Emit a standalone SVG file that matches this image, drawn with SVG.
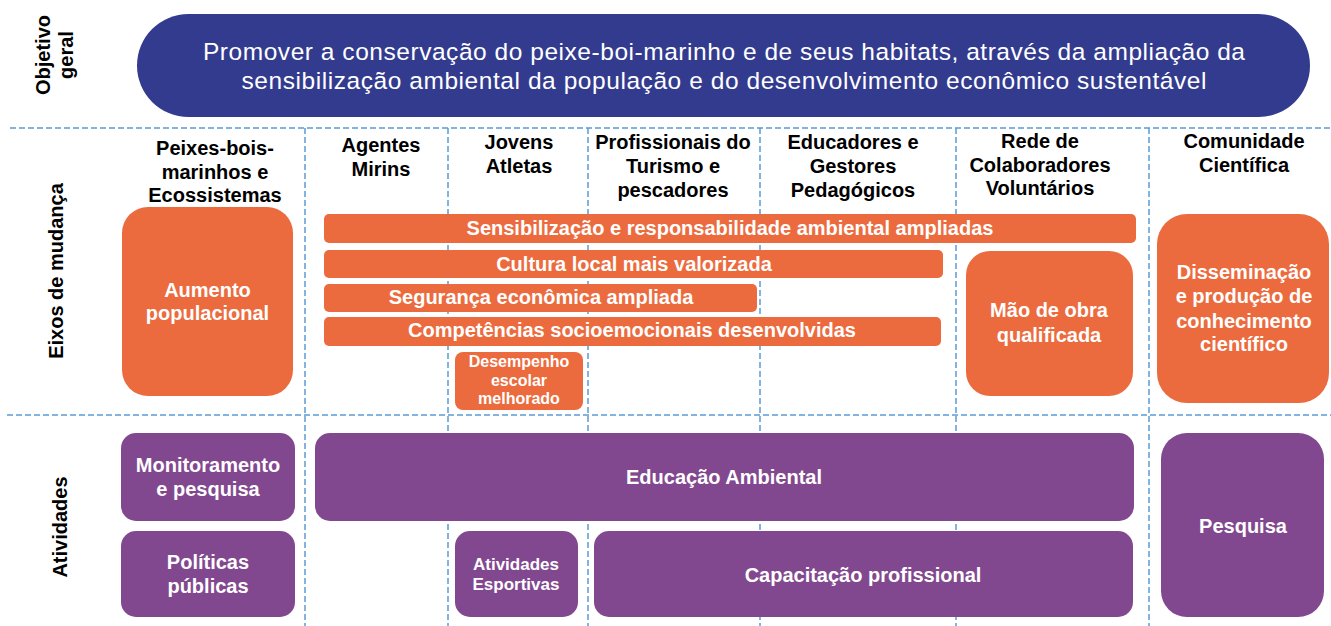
<svg xmlns="http://www.w3.org/2000/svg" width="1331" height="626" viewBox="0 0 1331 626">
<style>
text { font-family: "Liberation Sans", Arial, sans-serif; }
.k { font-size:20px; font-weight:bold; fill:#000; text-anchor:middle; }
.w { font-size:20px; font-weight:bold; fill:#fff; text-anchor:middle; }
.ws { font-size:16px; font-weight:bold; fill:#fff; text-anchor:middle; }
.wa { font-size:17px; font-weight:bold; fill:#fff; text-anchor:middle; }
.goal { font-size:24.5px; fill:#fff; text-anchor:middle; }
.o { fill:#EC6B3E; }
.p { fill:#82488F; }
.grid { stroke:#5B9BD5; stroke-width:1.5; stroke-dasharray:6 3; fill:none; }
</style>
<rect width="1331" height="626" fill="#fff"/>

<g id="grid" class="grid">
  <line x1="10" y1="128" x2="1331" y2="128"/>
  <line x1="7" y1="415" x2="1331" y2="415"/>
  <line x1="305" y1="128" x2="305" y2="626"/>
  <line x1="448" y1="128" x2="448" y2="626"/>
  <line x1="588" y1="128" x2="588" y2="626"/>
  <line x1="760" y1="128" x2="760" y2="626"/>
  <line x1="956" y1="128" x2="956" y2="626"/>
  <line x1="1149" y1="128" x2="1149" y2="626"/>
</g>

<g id="row-labels">
  <text class="k" transform="translate(50,55) rotate(-90)">Objetivo</text>
  <text class="k" transform="translate(73,55) rotate(-90)">geral</text>
  <text class="k" transform="translate(63,271) rotate(-90)">Eixos de mudança</text>
  <text class="k" transform="translate(67,527) rotate(-90)">Atividades</text>
</g>

<g id="goal">
  <rect x="137" y="14" width="1173" height="103" rx="51.5" fill="#333B8E"/>
  <text class="goal" x="724" y="59.5" textLength="1042">Promover a conservação do peixe-boi-marinho e de seus habitats, através da ampliação da</text>
  <text class="goal" x="724" y="88.5" textLength="965">sensibilização ambiental da população e do desenvolvimento econômico sustentável</text>
</g>

<g id="headers">
  <g id="h-peixes"><text class="k" x="215" y="155">Peixes-bois-</text><text class="k" x="215" y="179">marinhos e</text><text class="k" x="215" y="202">Ecossistemas</text></g>
  <g id="h-agentes"><text class="k" x="381" y="152">Agentes</text><text class="k" x="381" y="176">Mirins</text></g>
  <g id="h-jovens"><text class="k" x="519" y="149">Jovens</text><text class="k" x="519" y="173">Atletas</text></g>
  <g id="h-prof"><text class="k" x="673" y="149">Profissionais do</text><text class="k" x="673" y="173">Turismo e</text><text class="k" x="673" y="197">pescadores</text></g>
  <g id="h-educ"><text class="k" x="853" y="149">Educadores e</text><text class="k" x="853" y="173">Gestores</text><text class="k" x="853" y="197">Pedagógicos</text></g>
  <g id="h-rede"><text class="k" x="1040" y="148">Rede de</text><text class="k" x="1040" y="172">Colaboradores</text><text class="k" x="1040" y="195">Voluntários</text></g>
  <g id="h-com"><text class="k" x="1244" y="148">Comunidade</text><text class="k" x="1244" y="172">Científica</text></g>
</g>

<g id="aumento"><rect class="o" x="122" y="207" width="171" height="189" rx="26"/><text class="w" x="207.5" y="297">Aumento</text><text class="w" x="207.5" y="320">populacional</text></g>
<g id="sensibilizacao"><rect class="o" x="324" y="214" width="812" height="29" rx="5"/><text class="w" x="730" y="235">Sensibilização e responsabilidade ambiental ampliadas</text></g>
<g id="cultura"><rect class="o" x="324" y="250" width="619" height="28" rx="5"/><text class="w" x="634" y="271">Cultura local mais valorizada</text></g>
<g id="seguranca"><rect class="o" x="324" y="284" width="433" height="28" rx="5"/><text class="w" x="541" y="304">Segurança econômica ampliada</text></g>
<g id="competencias"><rect class="o" x="324" y="317" width="617" height="29" rx="5"/><text class="w" x="632" y="337">Competências socioemocionais desenvolvidas</text></g>
<g id="desempenho"><rect class="o" x="455" y="352" width="128" height="58" rx="8"/><text class="ws" x="519" y="367">Desempenho</text><text class="ws" x="519" y="386">escolar</text><text class="ws" x="519" y="404">melhorado</text></g>
<g id="mao-de-obra"><rect class="o" x="966" y="251" width="167" height="145" rx="24"/><text class="w" x="1049" y="317">Mão de obra</text><text class="w" x="1049" y="342">qualificada</text></g>
<g id="disseminacao"><rect class="o" x="1157" y="214" width="172" height="189" rx="30"/><text class="w" x="1244" y="279">Disseminação</text><text class="w" x="1244" y="303">e produção de</text><text class="w" x="1244" y="328">conhecimento</text><text class="w" x="1244" y="351">científico</text></g>

<g id="monitoramento"><rect class="p" x="121" y="433" width="174" height="88" rx="15"/><text class="w" x="208" y="472">Monitoramento</text><text class="w" x="208" y="496">e pesquisa</text></g>
<g id="politicas"><rect class="p" x="121" y="531" width="174" height="86" rx="15"/><text class="w" x="208" y="569">Políticas</text><text class="w" x="208" y="593">públicas</text></g>
<g id="educacao"><rect class="p" x="315" y="433" width="819" height="88" rx="15"/><text class="w" x="724" y="484">Educação Ambiental</text></g>
<g id="atividades-esportivas"><rect class="p" x="455" y="531" width="123" height="86" rx="15"/><text class="wa" x="516" y="570">Atividades</text><text class="wa" x="516" y="590">Esportivas</text></g>
<g id="capacitacao"><rect class="p" x="594" y="531" width="539" height="86" rx="15"/><text class="w" x="863" y="582">Capacitação profissional</text></g>
<g id="pesquisa"><rect class="p" x="1161" y="433" width="163" height="184" rx="26"/><text class="w" x="1243" y="533">Pesquisa</text></g>
</svg>
